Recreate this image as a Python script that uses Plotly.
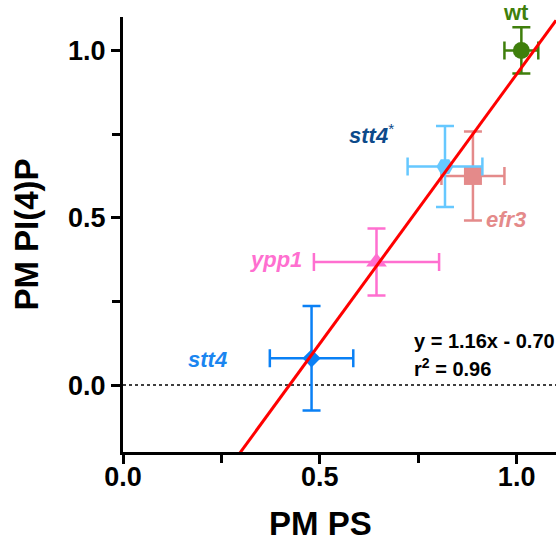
import plotly.graph_objects as go

# ---- data ----
strains = ["wt", "stt4*", "efr3", "ypp1", "stt4"]
pm_ps = [1.012, 0.818, 0.889, 0.644, 0.479]
pm_ps_err = [0.043, 0.095, 0.080, 0.159, 0.106]
pm_pi4p = [1.0, 0.653, 0.625, 0.368, 0.080]
pm_pi4p_err = [0.069, 0.121, 0.133, 0.100, 0.156]
marker_symbols = ["circle", "hexagon2", "square", "triangle-up", "diamond"]
marker_sizes = [17, 17, 18, 18, 14]
marker_colors = ["#3F7F0C", "#66C8FF", "#E48A8A", "#FF6FD0", "#0A80F5"]
label_texts = ["<b>wt</b>", "<b><i>stt4</i></b><sup>*</sup>", "<b><i>efr3</i></b>",
               "<b><i>ypp1</i></b>", "<b><i>stt4</i></b>"]
label_colors = ["#3F7F0C", "#0D4A8A", "#E48A8A", "#FF6FD0", "#1A85F0"]
label_x = [0.9995, 0.631, 0.974, 0.388, 0.215]
label_y = [1.113, 0.749, 0.496, 0.376, 0.075]

fit_slope = 1.61
fit_intercept = -0.681
fit_x = [0.0, 1.1]
eq_line1 = "y = 1.16x - 0.70"
eq_line2 = "r<sup>2</sup> = 0.96"

X_RANGE = [0, 1.1]
Y_RANGE = [-0.2, 1.1]

FONT = "Liberation Sans, Arial, Helvetica, sans-serif"


def y_to_paper(v):
    return (v - Y_RANGE[0]) / (Y_RANGE[1] - Y_RANGE[0])


fig = go.Figure()

# dotted zero line
fig.add_hline(y=0, line=dict(color="black", width=1.5, dash="dot"), layer="below")

# error bars + markers (draw efr3 before stt4* so stt4* sits on top)
order = [2, 1, 0, 3, 4]
for i in order:
    fig.add_trace(go.Scatter(
        x=[pm_ps[i]], y=[pm_pi4p[i]], mode="markers",
        marker=dict(symbol=marker_symbols[i], size=marker_sizes[i],
                    color=marker_colors[i], line=dict(width=0)),
        error_x=dict(type="data", array=[pm_ps_err[i]], color=marker_colors[i],
                     thickness=2.5, width=9),
        error_y=dict(type="data", array=[pm_pi4p_err[i]], color=marker_colors[i],
                     thickness=2.5, width=9),
        showlegend=False, cliponaxis=False, name=strains[i]))

# regression line
fig.add_trace(go.Scatter(
    x=fit_x, y=[fit_slope * v + fit_intercept for v in fit_x], mode="lines",
    line=dict(color="#FF0000", width=3), showlegend=False, hoverinfo="skip"))

for t, c, lx, ly in zip(label_texts, label_colors, label_x, label_y):
    fig.add_annotation(x=lx, y=y_to_paper(ly), xref="x", yref="paper", text=t,
                       showarrow=False, font=dict(family=FONT, size=22, color=c),
                       xanchor="center", yanchor="middle")

fig.add_annotation(x=0.735, y=0.131, xref="x", yref="y", text="<b>" + eq_line1 + "</b>",
                   showarrow=False, xanchor="left", yanchor="middle",
                   font=dict(family=FONT, size=20, color="black"))
fig.add_annotation(x=0.735, y=0.054, xref="x", yref="y", text="<b>" + eq_line2 + "</b>",
                   showarrow=False, xanchor="left", yanchor="middle",
                   font=dict(family=FONT, size=20, color="black"))

# x-axis title (slightly left of centre in the reference)
fig.add_annotation(x=0.455, y=-0.1655, xref="paper", yref="paper", text="<b>PM PS</b>",
                   showarrow=False, xanchor="center", yanchor="middle",
                   font=dict(family=FONT, size=33, color="black"))

axis_common = dict(
    showgrid=False, zeroline=False, showline=True, linecolor="black", linewidth=3,
    ticks="outside", ticklen=9, tickwidth=3, tickcolor="black",
    tickfont=dict(family=FONT, size=27, color="black", weight="bold"),
    minor=dict(ticks="outside", dtick=0.25, tick0=0, ticklen=8, tickwidth=3, tickcolor="black"),
)

fig.update_xaxes(range=X_RANGE, tickvals=[0, 0.5, 1.0], ticktext=["0.0", "0.5", "1.0"],
                 ticklabelstandoff=-10, **axis_common)
fig.update_yaxes(range=Y_RANGE, tickvals=[0, 0.5, 1.0], ticktext=["0.0", "0.5", "1.0"],
                 title=dict(text="<b>PM PI(4)P</b>", font=dict(family=FONT, size=33, color="black"),
                            standoff=20),
                 **axis_common)

fig.update_layout(
    width=556, height=542,
    margin=dict(l=123, r=0, t=17, b=90, autoexpand=False),
    plot_bgcolor="white", paper_bgcolor="white",
    font=dict(family=FONT),
)

fig.write_html("out.html", config={"displayModeBar": False},
               post_script="document.body.style.margin='0';document.body.style.overflow='hidden';")
